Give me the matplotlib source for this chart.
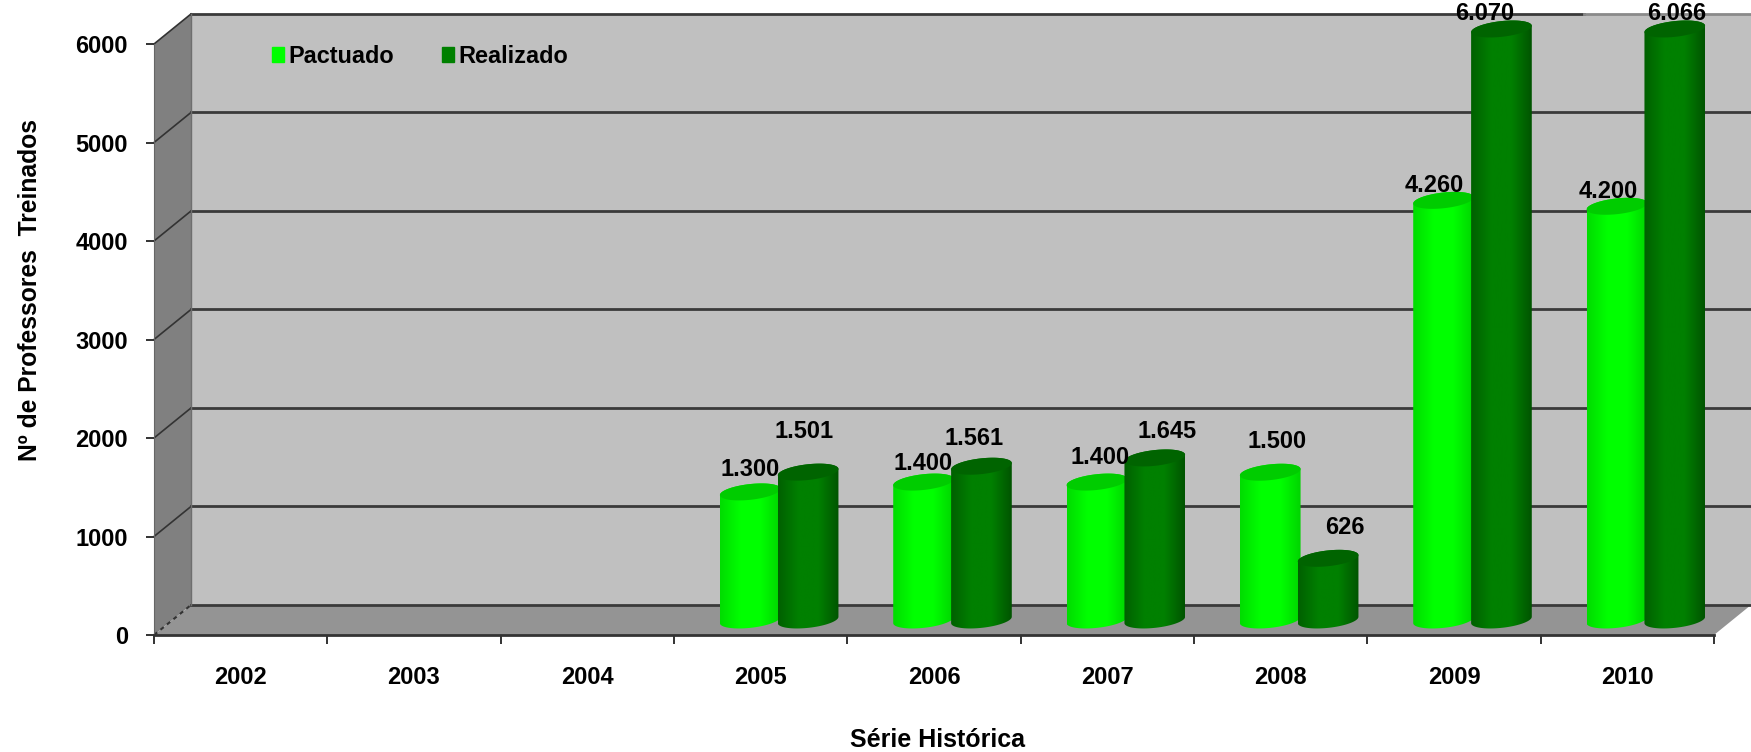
import numpy as np
import matplotlib
matplotlib.use('Agg')
import matplotlib.pyplot as plt
from matplotlib.colors import LinearSegmentedColormap
from matplotlib.patches import PathPatch, Patch
from matplotlib.path import Path

plt.rcParams['font.family'] = ['Liberation Sans', 'DejaVu Sans']
plt.rcParams['font.weight'] = 'bold'
plt.rcParams['axes.labelweight'] = 'bold'
plt.rcParams['font.size'] = 17

anos = ['2002', '2003', '2004', '2005', '2006', '2007', '2008', '2009', '2010']
pactuado = [None, None, None, 1300, 1400, 1400, 1500, 4260, 4200]
realizado = [None, None, None, 1501, 1561, 1645, 626, 6070, 6066]
rotulos_pactuado = ['', '', '', '1.300', '1.400', '1.400', '1.500', '4.260', '4.200']
rotulos_realizado = ['', '', '', '1.501', '1.561', '1.645', '626', '6.070', '6.066']
yticks = [0, 1000, 2000, 3000, 4000, 5000, 6000]

# nudges of the value labels from the top of each cylinder, in pixels
dx_pactuado = [0, 0, 0, 0, 0, 3, 7, -9, -9]
dy_pactuado = [0, 0, 0, 22, 19, 25, 31, 15, 15]
dx_realizado = [0, 0, 0, -4, -7, 12, 17, -17, 2]
dy_realizado = [0, 0, 0, 41, 28, 26, 31, 15, 15]

ymax = 6000
depth_x = 0.2135   # 3d depth in categories
depth_y = 305      # 3d depth in value units
bar_w = 0.35
rim_h = 80
rim_tilt = 32

fig = plt.figure(figsize=(17.51, 7.52), dpi=100)
ax = fig.add_axes((154 / 1751, 1 - 635 / 752, 1560 / 1751, 591 / 752))
ax.set_autoscale_on(False)
ax.set_xlim(0, 9)
ax.set_ylim(0, ymax)

n = len(anos)

# back wall, left wall and floor
ax.fill([depth_x, n + depth_x, n + depth_x, depth_x],
        [depth_y, depth_y, ymax + depth_y, ymax + depth_y],
        color='#c0c0c0', clip_on=False, zorder=1, lw=0)
ax.fill([0, depth_x, depth_x, 0], [0, depth_y, ymax + depth_y, ymax],
        color='#808080', clip_on=False, zorder=1, lw=0)
ax.fill([0, n, n + depth_x, depth_x], [0, 0, depth_y, depth_y],
        color='#949494', clip_on=False, zorder=1, lw=0)

for v in yticks:
    if v == 0:
        ax.plot([0, depth_x], [v, depth_y], color='#333333', lw=1.5, ls=(0, (2, 2)),
                clip_on=False, zorder=2)
    else:
        ax.plot([0, depth_x], [v, v + depth_y], color='#333333', lw=1.2, clip_on=False, zorder=2)
    # the top line fades out on the right in the original
    if v == ymax:
        ax.plot([depth_x, 8.25], [v + depth_y, v + depth_y], color='#3a3a3a', lw=2,
                clip_on=False, zorder=2)
        ax.plot([8.25, n + depth_x], [v + depth_y, v + depth_y], color='#8a8a8a', lw=2,
                clip_on=False, zorder=2)
    else:
        ax.plot([depth_x, n + depth_x], [v + depth_y, v + depth_y], color='#3a3a3a', lw=2,
                clip_on=False, zorder=2)
ax.plot([depth_x, depth_x], [depth_y, ymax + depth_y], color='#6e6e6e', lw=1, clip_on=False, zorder=2)


def cylinder(xc, valor, cmap, cor_topo, z):
    # clipped at the top of the scale like the original
    h = min(valor, ymax)
    yb = depth_y / 2
    yt = yb + h
    t = np.linspace(0, np.pi, 40)
    a = bar_w / 2
    top_x = xc + a * np.cos(t)
    top_y = yt + rim_h * np.sin(t) + rim_tilt * np.cos(t)
    bot_x = xc - a * np.cos(t)
    bot_y = yb - rim_h * np.sin(t) - rim_tilt * np.cos(t)
    body = np.vstack([np.column_stack([top_x, top_y]),
                      np.column_stack([bot_x, bot_y]),
                      [[top_x[0], top_y[0]]]])
    patch = PathPatch(Path(body, closed=True), transform=ax.transData)
    grad = np.linspace(0, 1, 128).reshape(1, -1)
    im = ax.imshow(grad, extent=(xc - a, xc + a, yb - 2 * rim_h, yt + 2 * rim_h),
                   aspect='auto', cmap=cmap, zorder=z)
    im.set_clip_path(patch)
    im.set_clip_box(fig.bbox)
    t2 = np.linspace(0, 2 * np.pi, 80)
    ax.fill(xc + a * np.cos(t2), yt + rim_h * np.sin(t2) + rim_tilt * np.cos(t2),
            color=cor_topo, lw=0, clip_on=False, zorder=z + 0.1)
    return yt


cmap_claro = LinearSegmentedColormap.from_list('claro', ['#00dc00', '#00ff00', '#00ff00', '#00d400'])
cmap_escuro = LinearSegmentedColormap.from_list('escuro', ['#006000', '#008000', '#008000', '#005400'])

dx_pt = 0.72
for i in range(n):
    if pactuado[i] is None:
        continue
    x1 = i + 0.5 - bar_w / 2 + 0.008 + depth_x / 2
    x2 = i + 0.5 + bar_w / 2 - 0.008 + depth_x / 2
    y1 = cylinder(x1, pactuado[i], cmap_claro, '#00cc00', 3)
    y2 = cylinder(x2, realizado[i], cmap_escuro, '#006400', 4)
    ax.annotate(rotulos_pactuado[i], (x1, y1), xytext=(dx_pactuado[i] * dx_pt, dy_pactuado[i] * dx_pt),
                textcoords='offset points', ha='center', va='center', annotation_clip=False, zorder=6)
    ax.annotate(rotulos_realizado[i], (x2, y2), xytext=(dx_realizado[i] * dx_pt, dy_realizado[i] * dx_pt),
                textcoords='offset points', ha='center', va='center', annotation_clip=False, zorder=6)

for s in ['top', 'right']:
    ax.spines[s].set_visible(False)
ax.spines['left'].set_color('#666666')
ax.spines['bottom'].set_color('#333333')
ax.spines['bottom'].set_linewidth(2)
ax.spines['bottom'].set_zorder(2.5)
ax.spines['left'].set_zorder(2.5)

ax.set_xticks(range(n + 1))
ax.set_xticklabels([])
ax.set_xticks(np.arange(n) + 0.5, minor=True)
ax.set_xticklabels(anos, minor=True)
ax.tick_params(axis='x', which='major', length=6.5, width=1.3, color='#222222')
ax.tick_params(axis='x', which='minor', length=0, pad=22.5)
ax.set_yticks(yticks)
ax.tick_params(axis='y', length=5.5, width=1.3, color='#222222', pad=13.3)

ax.set_xlabel('Série Histórica', va='center', fontsize=18)
ax.xaxis.set_label_coords(0.502, -0.177)
ax.set_ylabel('Nº de Professores  Treinados', va='center', fontsize=17.7)
ax.yaxis.set_label_coords(-0.0795, 0.584)

ax.legend(handles=[Patch(color='#00ff00', label='Pactuado'), Patch(color='#008000', label='Realizado')],
          ncol=2, frameon=False, loc='center left', bbox_to_anchor=(0.0755, 0.979),
          handlelength=0.5, handleheight=0.6, handletextpad=0.2, columnspacing=2.05,
          borderpad=0, borderaxespad=0, fontsize=16.9)

fig.savefig('out.png', dpi=100)
